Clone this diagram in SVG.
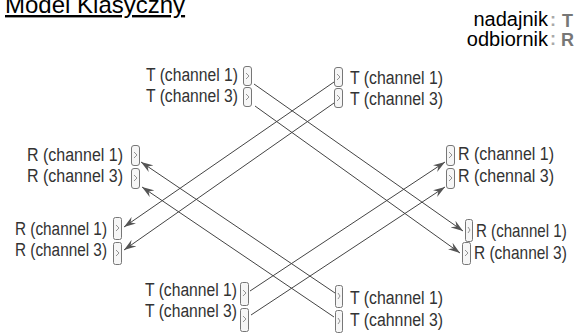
<svg xmlns="http://www.w3.org/2000/svg" width="574" height="335" viewBox="0 0 574 335">
<style>
.title{font-family:"Liberation Sans",Arial,sans-serif;font-size:24px;fill:#000;text-decoration:underline}
.leg{font-family:"Liberation Sans",Arial,sans-serif;font-size:20px;fill:#000}
.legs{font-family:"Liberation Sans",Arial,sans-serif;font-size:18px;font-weight:bold;fill:#777}
.col{fill:#aaa}
.lbl{font-family:"Liberation Sans Narrow","Liberation Sans",Arial,sans-serif;font-size:18px;fill:#333}
.end{text-anchor:end}
.dev{fill:#f6f6f6;stroke:#777;stroke-width:1}
.mark{fill:none;stroke:#888;stroke-width:0.9}
.conn{stroke:#444;stroke-width:1;fill:none}
.arr{marker-end:url(#ah)}
</style>
<defs>
<marker id="ah" markerUnits="userSpaceOnUse" markerWidth="13" markerHeight="9" refX="12" refY="4.5" orient="auto">
<path d="M0,0.5 L12,4.5 L0,8.5 L4,4.5 Z" fill="#555"/>
</marker>
</defs>

<text class="title" x="5" y="13">Model Klasyczny</text>

<g id="legend">
<text class="leg end" x="548" y="26">nadajnik</text>
<text class="leg end" x="548" y="46">odbiornik</text>
<text class="legs col" x="550" y="26">:</text>
<text class="legs col" x="550" y="45">:</text>
<text class="legs" x="562" y="27">T</text>
<text class="legs" x="561" y="46">R</text>
</g>

<g id="connectors">
<line class="conn arr" x1="254" y1="84" x2="463" y2="231"/>
<line class="conn arr" x1="255" y1="106" x2="460" y2="253"/>
<line class="conn arr" x1="334" y1="82" x2="124" y2="227"/>
<line class="conn arr" x1="334" y1="103" x2="124" y2="250"/>
<line class="conn arr" x1="250" y1="291" x2="445" y2="162"/>
<line class="conn arr" x1="251" y1="315" x2="445" y2="187"/>
<line class="conn arr" x1="335" y1="293" x2="141" y2="162"/>
<line class="conn arr" x1="334" y1="317" x2="142" y2="187"/>
</g>

<g id="tx-top-left">
<text class="lbl end" x="238" y="81" textLength="92" lengthAdjust="spacingAndGlyphs">T (channel 1)</text>
<text class="lbl end" x="238" y="102" textLength="92" lengthAdjust="spacingAndGlyphs">T (channel 3)</text>
<rect class="dev" x="243.5" y="66.5" width="8" height="19" rx="2.5"/>
<rect class="dev" x="243.5" y="87.5" width="8" height="19" rx="2.5"/>
<path class="mark" d="M246,73 L249,76 L246,79 M246,94 L249,97 L246,100"/>
</g>

<g id="tx-top-right">
<rect class="dev" x="334.5" y="67.5" width="8" height="19" rx="2.5"/>
<rect class="dev" x="334.5" y="88.5" width="8" height="19" rx="2.5"/>
<path class="mark" d="M337,74 L340,77 L337,80 M337,95 L340,98 L337,101"/>
<text class="lbl" x="350" y="84" textLength="93" lengthAdjust="spacingAndGlyphs">T (channel 1)</text>
<text class="lbl" x="350" y="105" textLength="93" lengthAdjust="spacingAndGlyphs">T (channel 3)</text>
</g>

<g id="rx-left-upper">
<text class="lbl end" x="123" y="161" textLength="96" lengthAdjust="spacingAndGlyphs">R (channel 1)</text>
<text class="lbl end" x="123" y="182" textLength="96" lengthAdjust="spacingAndGlyphs">R (channel 3)</text>
<rect class="dev" x="131.5" y="145.5" width="8" height="20" rx="2.5"/>
<rect class="dev" x="131.5" y="168.5" width="8" height="20" rx="2.5"/>
<path class="mark" d="M134,152 L137,155 L134,158 M134,175 L137,178 L134,181"/>
</g>

<g id="rx-right-upper">
<rect class="dev" x="446.5" y="145.5" width="8" height="20" rx="2.5"/>
<rect class="dev" x="446.5" y="168.5" width="8" height="20" rx="2.5"/>
<path class="mark" d="M449,152 L452,155 L449,158 M449,175 L452,178 L449,181"/>
<text class="lbl" x="458" y="160" textLength="96" lengthAdjust="spacingAndGlyphs">R (channel 1)</text>
<text class="lbl" x="458" y="182" textLength="96" lengthAdjust="spacingAndGlyphs">R (chennal 3)</text>
</g>

<g id="rx-left-lower">
<text class="lbl end" x="107" y="235" textLength="92" lengthAdjust="spacingAndGlyphs">R (channel 1)</text>
<text class="lbl end" x="107" y="256" textLength="92" lengthAdjust="spacingAndGlyphs">R (channel 3)</text>
<rect class="dev" x="113.5" y="217.5" width="8" height="22" rx="2"/>
<rect class="dev" x="113.5" y="242.5" width="8" height="22" rx="2"/>
<path class="mark" d="M116,225 L119,228 L116,231 M116,250 L119,253 L116,256"/>
</g>

<g id="rx-right-lower">
<rect class="dev" x="465.5" y="219.5" width="7" height="22" rx="2"/>
<rect class="dev" x="462.5" y="242.5" width="8" height="22" rx="2"/>
<path class="mark" d="M468,227 L470,230 L468,233 M465,250 L468,253 L465,256"/>
<text class="lbl" transform="translate(476,237) scale(0.84,1)" x="0" y="0">R (channel 1)</text>
<text class="lbl" transform="translate(474,259) scale(0.86,1)" x="0" y="0">R (channel 3)</text>
</g>

<g id="tx-bottom-left">
<text class="lbl end" x="237" y="296" textLength="92" lengthAdjust="spacingAndGlyphs">T (channel 1)</text>
<text class="lbl end" x="237" y="317" textLength="92" lengthAdjust="spacingAndGlyphs">T (channel 3)</text>
<rect class="dev" x="240.5" y="282.5" width="8" height="23" rx="2"/>
<rect class="dev" x="240.5" y="308.5" width="8" height="23" rx="2"/>
<path class="mark" d="M243,290 L246,293 L243,296 M243,316 L246,319 L243,322"/>
</g>

<g id="tx-bottom-right">
<rect class="dev" x="335.5" y="285.5" width="7" height="22" rx="2"/>
<rect class="dev" x="335.5" y="310.5" width="7" height="22" rx="2"/>
<path class="mark" d="M338,293 L340,296 L338,299 M338,318 L340,321 L338,324"/>
<text class="lbl" x="350" y="304" textLength="93" lengthAdjust="spacingAndGlyphs">T (channel 1)</text>
<text class="lbl" x="350" y="326" textLength="93" lengthAdjust="spacingAndGlyphs">T (cahnnel 3)</text>
</g>
</svg>
